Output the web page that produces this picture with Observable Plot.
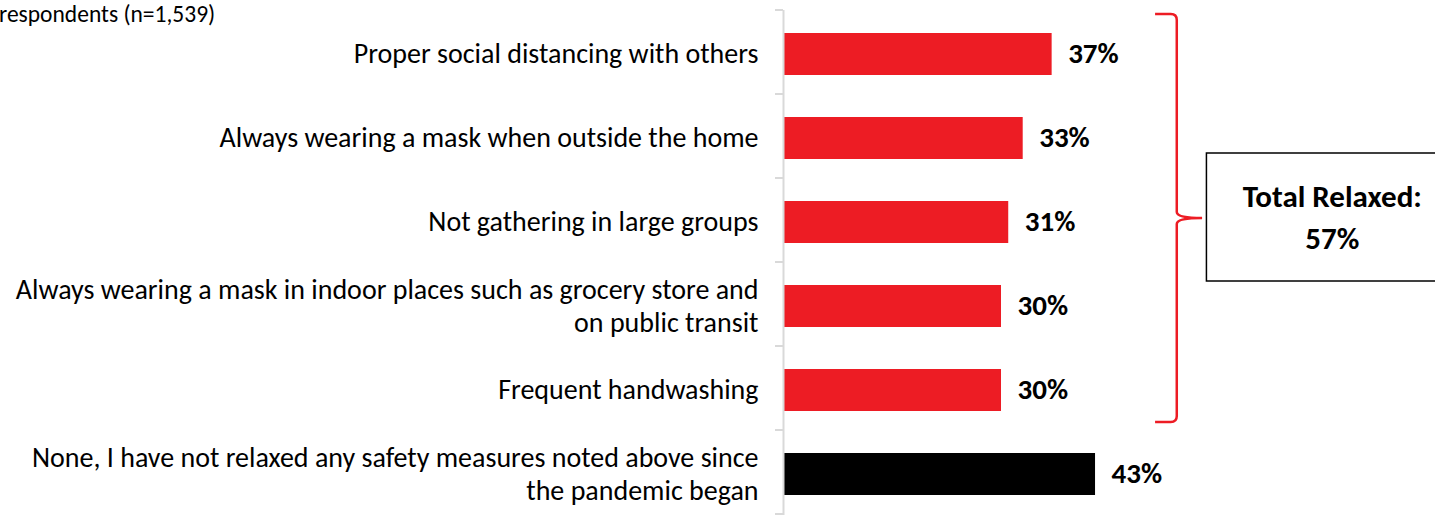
<!DOCTYPE html>
<html>
<head>
<meta charset="utf-8">
<script src="https://cdn.jsdelivr.net/npm/d3@7"></script>
<script src="https://cdn.jsdelivr.net/npm/@observablehq/plot@0.6"></script>
<style>
  html, body { margin: 0; padding: 0; background: #fff; overflow: hidden; }
  #chart svg { display: block; }
</style>
</head>
<body>
<div id="chart"></div>
<script>
const categories = [
  "Proper social distancing with others",
  "Always wearing a mask when outside the home",
  "Not gathering in large groups",
  "Always wearing a mask in indoor places such as grocery store and\non public transit",
  "Frequent handwashing",
  "None, I have not relaxed any safety measures noted above since\nthe pandemic began"
];
const values = [37, 33, 31, 30, 30, 43];
const groups = ["relaxed", "relaxed", "relaxed", "relaxed", "relaxed", "none"];
const subtitle = "respondents (n=1,539)";
const totalLabel = "Total Relaxed:";
const totalValue = "57%";

const data = categories.map((c, i) => ({cat: c, value: values[i], group: groups[i]}));
const FONT = "Carlito, Lato, 'Open Sans', sans-serif";
const RED = "#ED1C24";

const plot = Plot.plot({
  width: 1435,
  height: 518,
  marginLeft: 784,
  marginRight: 0,
  marginTop: 10,
  marginBottom: 0,
  style: {fontFamily: FONT, background: "#fff", overflow: "visible"},
  x: {domain: [0, 90], axis: null},
  y: {domain: categories, paddingInner: 0.5, paddingOuter: 0.25, axis: null},
  color: {domain: ["relaxed", "none"], range: [RED, "#000000"]},
  marks: [
    Plot.barX(data, {x: "value", y: "cat", fill: "group"}),
    Plot.ruleX([0], {stroke: "#d9d9d9", strokeWidth: 2, dx: -1}),
    Plot.axisY({label: null, tickSize: 0, tickPadding: 26, fontSize: 28, lineHeight: 1.18, dy: -2, fill: "#000", textOverflow: null, lineWidth: Infinity}),
    Plot.text(data, {x: "value", y: "cat", text: d => d.value + "%", textAnchor: "start", dx: 16, dy: -1, fontSize: 29, fontWeight: "bold", fill: "#000"})
  ]
});

document.getElementById("chart").appendChild(plot);

const ys = plot.scale("y");
const xs = plot.scale("x");
const svg = d3.select(plot);
const step = ys.step;
const top0 = ys.range[0];
const xAxis = xs.apply(0);

// tick marks at band boundaries
const g = svg.append("g");
for (let i = 0; i <= categories.length; i++) {
  const yy = top0 + i * step;
  g.append("line").attr("x1", xAxis - 9).attr("x2", xAxis - 1)
    .attr("y1", yy).attr("y2", yy).attr("stroke", "#d9d9d9").attr("stroke-width", 2);
}

// bracket over relaxed group
const yTop = ys.apply(categories[0]) - 19;
const yBot = ys.apply(categories[4]) + ys.bandwidth + 11;
const yMid = (yTop + yBot) / 2;
const xv = xs.apply(54.3);
const xh = xs.apply(51.3);
const xt = xs.apply(57.8);
const r = 6;
const path = `M${xh},${yTop} L${xv - r},${yTop} Q${xv},${yTop} ${xv},${yTop + r}
  L${xv},${yMid - r} Q${xv},${yMid} ${xt},${yMid} Q${xv},${yMid} ${xv},${yMid + r}
  L${xv},${yBot - r} Q${xv},${yBot} ${xv - r},${yBot} L${xh},${yBot}`;
svg.append("path").attr("d", path).attr("fill", "none").attr("stroke", RED).attr("stroke-width", 2.5);

// total box
const bx = xs.apply(58.4);
svg.append("rect").attr("x", bx).attr("y", yMid - 65).attr("width", xs.apply(95) - bx).attr("height", 128)
  .attr("fill", "#fff").attr("stroke", "#000").attr("stroke-width", 1.5);
const cx = xs.apply(75.8);
svg.append("text").attr("x", cx).attr("y", yMid - 19).attr("text-anchor", "middle").attr("dominant-baseline", "middle")
  .attr("font-family", FONT).attr("font-size", 31).attr("font-weight", "bold").attr("fill", "#000").text(totalLabel);
svg.append("text").attr("x", cx).attr("y", yMid + 23).attr("text-anchor", "middle").attr("dominant-baseline", "middle")
  .attr("font-family", FONT).attr("font-size", 31).attr("font-weight", "bold").attr("fill", "#000").text(totalValue);

// subtitle
svg.append("text").attr("x", -1).attr("y", 16).attr("text-anchor", "start").attr("dominant-baseline", "middle")
  .attr("font-family", FONT).attr("font-size", 23.5).attr("fill", "#000").text(subtitle);
</script>
</body>
</html>
